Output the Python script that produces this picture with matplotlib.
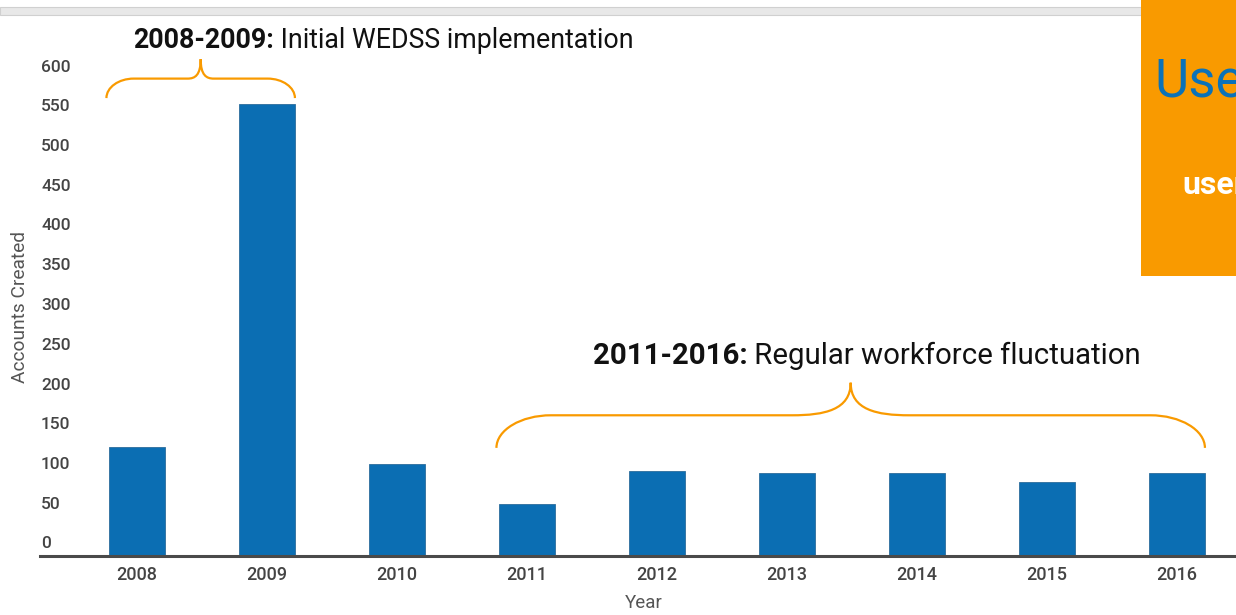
import matplotlib.pyplot as plt
from matplotlib.path import Path
from matplotlib.patches import PathPatch, Rectangle
import numpy as np

plt.rcParams['font.family'] = ['Roboto', 'DejaVu Sans']

# data
years = ['2008', '2009', '2010', '2011', '2012', '2013', '2014', '2015', '2016']
accounts = [137, 569, 116, 66, 107, 104, 105, 93, 105]
y_ticks = [0, 50, 100, 150, 200, 250, 300, 350, 400, 450, 500, 550, 600]

BAR_COLOR = '#0B6EB3'
ORANGE = '#F99A00'
TEXT_GRAY = '#444444'

W, H = 1236, 615
fig = plt.figure(figsize=(W / 100, H / 100), dpi=100)

# axes: baseline at y=556px, 600 at y=79px, left edge at x=40px
ax_left, ax_bottom = 40 / W, (H - 556) / H
ax = fig.add_axes([ax_left, ax_bottom, 1 - ax_left, (556 - 79) / H])

x = np.arange(len(years))
bar_w = 0.43
ax.bar(x, accounts, width=bar_w, color=BAR_COLOR, edgecolor='#2C6D9C', linewidth=0.6, zorder=2)

ax.set_xlim(-0.746, 8.454)
ax.set_ylim(0, 600)
for s in ['top', 'right', 'left']:
    ax.spines[s].set_visible(False)
ax.spines['bottom'].set_color('#4a4a4a')
ax.spines['bottom'].set_linewidth(2.2)
ax.spines['bottom'].set_zorder(3)

ax.set_xticks(x)
ax.set_xticklabels(years, fontsize=13, color=TEXT_GRAY, fontweight='medium')
ax.tick_params(axis='x', length=0, pad=7)
ax.set_yticks([])

# y labels sit a little above their value, left aligned
for v in y_ticks:
    ax.annotate(str(v), xy=(0, v), xycoords=ax.get_yaxis_transform(),
                xytext=(1, 12), textcoords='offset pixels',
                ha='left', va='center', fontsize=12.5, color=TEXT_GRAY, fontweight='medium',
                annotation_clip=False)

fig.text(20 / W, 1 - 307 / H, 'Accounts Created', rotation=90, ha='center', va='center',
         fontsize=13.8, color='#555555')
fig.text(644 / W, 1 - 603 / H, 'Year', ha='center', va='center', fontsize=13.5, color='#555555')


def brace(ax, x0, x1, y0, h, w_end, w_mid):
    xm = (x0 + x1) / 2
    ym = y0 + h / 2
    yt = y0 + h
    k = 0.55
    verts = [
        (x0, y0),
        (x0, y0 + k * (ym - y0)), (x0 + w_end * (1 - k), ym), (x0 + w_end, ym),
        (xm - w_mid, ym),
        (xm - w_mid * (1 - k), ym), (xm, ym + k * (yt - ym) * 0.3), (xm, yt),
        (xm, ym + k * (yt - ym) * 0.3), (xm + w_mid * (1 - k), ym), (xm + w_mid, ym),
        (x1 - w_end, ym),
        (x1 - w_end * (1 - k), ym), (x1, y0 + k * (ym - y0)), (x1, y0),
    ]
    codes = [Path.MOVETO,
             Path.CURVE4, Path.CURVE4, Path.CURVE4,
             Path.LINETO,
             Path.CURVE4, Path.CURVE4, Path.CURVE4,
             Path.CURVE4, Path.CURVE4, Path.CURVE4,
             Path.LINETO,
             Path.CURVE4, Path.CURVE4, Path.CURVE4]
    ax.add_patch(PathPatch(Path(verts, codes), facecolor='none', edgecolor=ORANGE,
                           linewidth=1.6, clip_on=False, zorder=4))


def label(ax, x, y, bold, rest, size):
    t = ax.annotate(bold, xy=(x, y), xycoords='data', ha='left', va='center',
                    fontsize=size, fontweight='bold', color='#111111', annotation_clip=False)
    ax.annotate(rest, xy=(1, 0), xycoords=t, ha='left', va='bottom',
                fontsize=size, color='#111111', annotation_clip=False)


brace(ax, 0 - bar_w / 2 - 0.02, 1 + bar_w / 2, 576, 49, 0.21, 0.1)
brace(ax, 3 - bar_w / 2 - 0.02, 8 + bar_w / 2, 136, 82, 0.42, 0.45)
label(ax, -0.03, 648, '2008-2009:', ' Initial WEDSS implementation', 19.3)
label(ax, 3.505, 252, '2011-2016:', ' Regular workforce fluctuation', 21.2)

# page furniture: top scrollbar strip and the orange side panel
fig.patches.append(Rectangle((0, 1 - 15 / H), 1141 / W, 8 / H, transform=fig.transFigure,
                             facecolor='#E8E8E8', edgecolor='#D0D0D0', linewidth=0.8))
fig.patches.append(Rectangle((1141 / W, 1 - 276 / H), 1, 276 / H, transform=fig.transFigure,
                             facecolor=ORANGE, edgecolor='none', zorder=5))
fig.text(1154 / W, 1 - 82 / H, 'Use', fontsize=38, color='#0B72B8',
         ha='left', va='center', zorder=6)
fig.text(1182 / W, 1 - 185 / H, 'user', fontsize=23, color='white', fontweight='bold',
         ha='left', va='center', zorder=6)

fig.savefig('out.png', dpi=100)
